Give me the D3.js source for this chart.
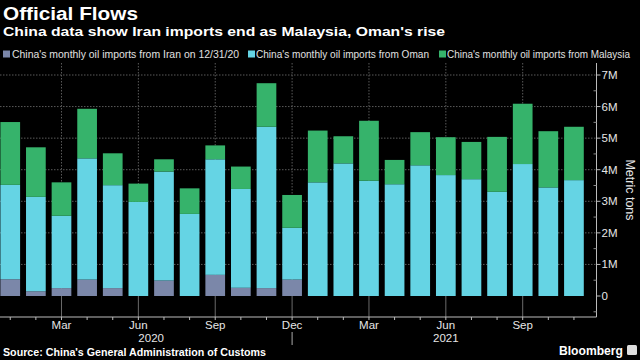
<!DOCTYPE html>
<html><head><meta charset="utf-8">
<script src="https://cdn.jsdelivr.net/npm/d3@7/dist/d3.min.js"></script>
<style>html,body{margin:0;padding:0;background:#000;}svg{display:block;}</style>
</head><body>
<svg id="c" width="640" height="360"></svg>
<script>
// ---- data (millions of metric tons) ----
const months = ["Jan 2020","Feb 2020","Mar 2020","Apr 2020","May 2020","Jun 2020","Jul 2020","Aug 2020","Sep 2020","Oct 2020","Nov 2020","Dec 2020",
                "Jan 2021","Feb 2021","Mar 2021","Apr 2021","May 2021","Jun 2021","Jul 2021","Aug 2021","Sep 2021","Oct 2021","Nov 2021"];
const iran     = [0.53,0.15,0.25,0.52,0.25,0.00,0.49,0.00,0.67,0.26,0.25,0.52, 0,0,0,0,0,0,0,0,0,0,0];
const oman     = [2.99,2.99,2.29,3.84,3.26,2.98,3.45,2.60,3.66,3.13,5.11,1.64, 3.60,4.20,3.65,3.54,4.14,3.83,3.70,3.30,4.18,3.44,3.67];
const malaysia = [1.99,1.57,1.06,1.57,1.01,0.58,0.39,0.81,0.44,0.71,1.38,1.04, 1.64,0.86,1.90,0.77,1.05,1.20,1.18,1.74,1.91,1.78,1.69];
const seriesNames = ["China's monthly oil imports from Iran on 12/31/20","China's monthly oil imports from Oman","China's monthly oil imports from Malaysia"];
const yTicks = [0,1,2,3,4,5,6,7];
const yTickLabels = ["0","1M","2M","3M","4M","5M","6M","7M"];
const xTickIdx = [2,5,8,11,14,17,20];
const xTickLabels = ["Mar","Jun","Sep","Dec","Mar","Jun","Sep"];
const years = ["2020","2021"];

const colors = ["#7b87a9","#65d4e4","#36b36b"];
const svg = d3.select("#c");
const FONT = "'Liberation Sans', Arial, sans-serif";

const x = d3.scaleLinear().domain([-0.4, 22.9]).range([0, 597]);
const y = d3.scaleLinear().domain([0, 7]).range([296, 75]);
const yTop = 63, yBot = 317, axisX = 596.5;
const bw = 19.7;

// grid
const g = svg.append("g");
g.selectAll(".hg").data(yTicks.filter(d=>d>0)).join("line")
  .attr("x1",0).attr("x2",axisX).attr("y1",d=>y(d)).attr("y2",d=>y(d))
  .attr("stroke","#5a5a5a").attr("stroke-width",1).attr("stroke-dasharray","1.5,1.5");
g.selectAll(".vg").data(xTickIdx).join("line")
  .attr("x1",d=>x(d)).attr("x2",d=>x(d)).attr("y1",yTop).attr("y2",y(0))
  .attr("stroke","#5a5a5a").attr("stroke-width",1).attr("stroke-dasharray","1.5,1.5");
g.selectAll(".vg2").data(xTickIdx).join("line")
  .attr("x1",d=>x(d)).attr("x2",d=>x(d)).attr("y1",y(0)).attr("y2",yBot)
  .attr("stroke","#6a6a6a").attr("stroke-width",1);

// stacked bars
const rows = months.map((m,i)=>({m, i, iran:iran[i], oman:oman[i], malaysia:malaysia[i]}));
const stack = d3.stack().keys(["iran","oman","malaysia"])(rows);
svg.append("g").selectAll("g").data(stack).join("g")
  .attr("fill",(d,i)=>colors[i])
  .selectAll("rect").data(d=>d).join("rect")
  .attr("x",d=>x(d.data.i)-bw/2).attr("width",bw)
  .attr("y",d=>y(d[1])).attr("height",d=>Math.max(0,y(d[0])-y(d[1])));

// x axis
const ax = svg.append("g");
ax.append("line").attr("x1",0).attr("x2",axisX).attr("y1",yBot).attr("y2",yBot).attr("stroke","#bbb");
ax.selectAll(".mt").data(months.map((m,i)=>i)).join("line")
  .attr("x1",d=>x(d)).attr("x2",d=>x(d)).attr("y1",yBot).attr("y2",yBot+3).attr("stroke","#bbb");
ax.selectAll(".xl").data(xTickIdx).join("text")
  .attr("x",d=>x(d)).attr("y",329).attr("text-anchor","middle")
  .attr("fill","#e6e6e6").attr("font-family",FONT).attr("font-size",11.5)
  .text((d,i)=>xTickLabels[i]);
ax.append("line").attr("x1",x(11)).attr("x2",x(11)).attr("y1",332).attr("y2",345).attr("stroke","#aaa");
ax.selectAll(".yr").data(years).join("text")
  .attr("x",(d,i)=> i===0 ? (x(0)+x(11))/2 : (x(12)+x(22))/2).attr("y",342).attr("text-anchor","middle")
  .attr("fill","#e6e6e6").attr("font-family",FONT).attr("font-size",11.5).text(d=>d);

// y axis
const ay = svg.append("g");
ay.append("line").attr("x1",axisX).attr("x2",axisX).attr("y1",yTop).attr("y2",yBot).attr("stroke","#bbb");
ay.selectAll(".yt").data(yTicks).join("line")
  .attr("x1",axisX).attr("x2",axisX+4).attr("y1",d=>y(d)).attr("y2",d=>y(d)).attr("stroke","#bbb");
ay.selectAll(".ymt").data(d3.range(-0.5,7.5,1)).join("line")
  .attr("x1",axisX-3).attr("x2",axisX).attr("y1",d=>y(d)).attr("y2",d=>y(d)).attr("stroke","#888");
ay.selectAll(".yl").data(yTicks).join("text")
  .attr("x",601.5).attr("y",d=>y(d)+4).attr("fill","#e6e6e6")
  .attr("font-family",FONT).attr("font-size",11.5).text((d,i)=>yTickLabels[i]);
svg.append("text").attr("transform","translate(626,190) rotate(90)")
  .attr("text-anchor","middle").attr("fill","#e6e6e6").attr("font-family",FONT).attr("font-size",12.5)
  .text("Metric tons");

// titles
function fitText(sel, w){ sel.attr("textLength",w).attr("lengthAdjust","spacingAndGlyphs"); return sel; }
fitText(svg.append("text").attr("x",3).attr("y",19.5).attr("fill","#fff").attr("font-family",FONT)
  .attr("font-weight","bold").attr("font-size",18).text("Official Flows"),135);
fitText(svg.append("text").attr("x",3).attr("y",36).attr("fill","#fff").attr("font-family",FONT)
  .attr("font-weight","bold").attr("font-size",13).text("China data show Iran imports end as Malaysia, Oman's rise"),442);

// legend
const legX = [3, 248, 439], legTX = [12, 256, 447], legW = [227, 173, 183];
const leg = svg.append("g");
seriesNames.forEach((n,i)=>{
  leg.append("rect").attr("x",legX[i]).attr("y",50.5).attr("width",7).attr("height",7).attr("fill",colors[i]);
  fitText(leg.append("text").attr("x",legTX[i]).attr("y",58).attr("fill","#e0e0e0").attr("font-family",FONT)
    .attr("font-size",10).text(n), legW[i]);
});

// source & logo
fitText(svg.append("text").attr("x",3).attr("y",356).attr("fill","#fff").attr("font-family",FONT)
  .attr("font-weight","bold").attr("font-size",11).text("Source: China's General Administration of Customs"),263);
fitText(svg.append("text").attr("x",559).attr("y",355).attr("fill","#fff").attr("font-family",FONT)
  .attr("font-weight","bold").attr("font-size",13).text("Bloomberg"),64);
svg.append("rect").attr("x",627).attr("y",345).attr("width",10).attr("height",10).attr("rx",1.5).attr("fill","#ddd");
</script>
</body></html>
